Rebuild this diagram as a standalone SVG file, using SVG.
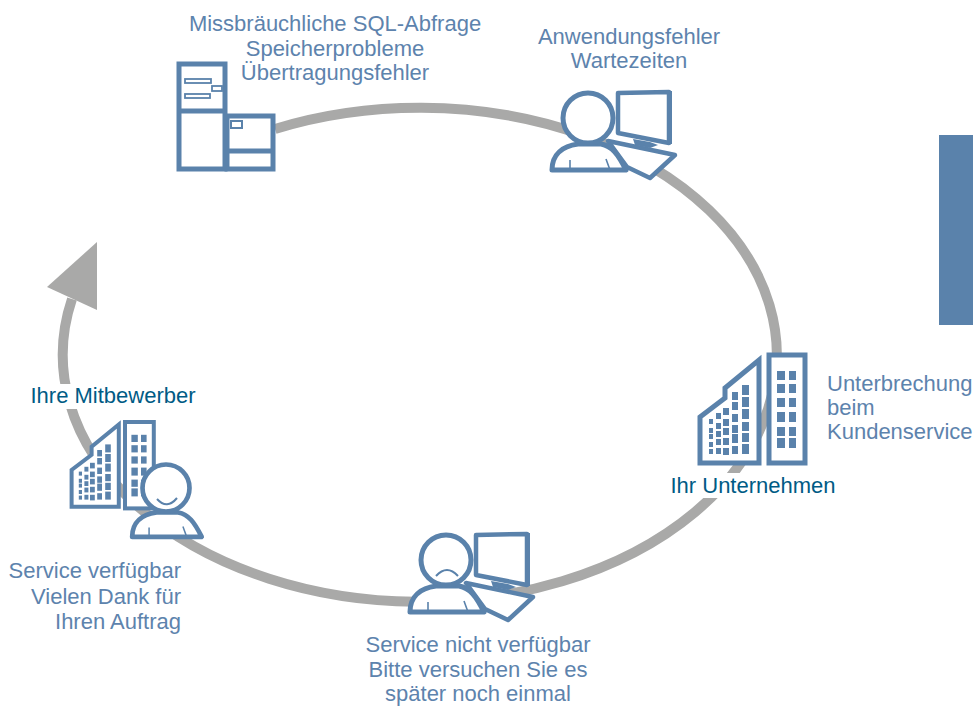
<svg xmlns="http://www.w3.org/2000/svg" width="973" height="706" viewBox="0 0 973 706">
<style>
text{font-family:"Liberation Sans",Arial,sans-serif;font-size:22px;fill:#5d83ad}
.d{fill:#005b85}
.m{text-anchor:middle}
.e{text-anchor:end}
.l{fill:none;stroke:#5a82ab;stroke-width:5}
.w{fill:#fff;stroke:#5a82ab;stroke-width:5;stroke-linejoin:round}
.t{fill:#fff;stroke:#5a82ab;stroke-width:2}
.f{fill:#5a82ab}
</style>
<defs>
<g id="person">
<path class="w" d="M-36 52C-36 36-25 28-10 26L13 26C24 28 30 36 38 52Z"/>
<circle class="w" cx="0" cy="0" r="25"/>
<path d="M-18 42V52M18 41L22 52" fill="none" stroke="#5a82ab" stroke-width="1.6"/>
</g>
<g id="monitor">
<path class="w" d="M20 23L87 37L62 60L39 49Z" style="stroke-width:4.5"/>
<path class="w" d="M30 -25L81 -26L81 25L30 15Z" style="stroke-width:4.5"/>
<path class="f" d="M79 -27H84V26H79Z"/>
<path class="f" d="M45 21L47 27L62 30L70 27L62 24Z"/>
</g>
<g id="tower">
<rect class="w" x="0" y="0" width="36" height="108" style="stroke-linejoin:miter"/>
<g class="f"><rect x="8" y="16" width="8" height="9"/><rect x="20" y="16" width="7" height="9"/><rect x="8" y="29" width="8" height="9"/><rect x="20" y="29" width="7" height="9"/><rect x="8" y="43" width="8" height="9"/><rect x="20" y="43" width="7" height="9"/><rect x="8" y="57" width="8" height="10"/><rect x="20" y="57" width="7" height="10"/><rect x="8" y="72" width="8" height="9"/><rect x="20" y="72" width="7" height="9"/><rect x="8" y="83" width="8" height="10"/><rect x="20" y="83" width="7" height="10"/></g>
</g>
<g id="building">
<path class="w" d="M700 463V417L725 398V388L759 360V463Z" style="stroke-linejoin:miter"/>
<g class="f">
<rect x="709" y="419" width="4" height="5"/><rect x="709" y="428" width="4" height="5"/><rect x="709" y="434" width="4" height="5"/><rect x="709" y="442" width="4" height="5"/><rect x="709" y="449" width="4" height="5"/>
<rect x="716" y="413" width="5" height="6"/><rect x="716" y="423" width="5" height="6"/><rect x="716" y="431" width="5" height="6"/><rect x="716" y="439" width="5" height="6"/><rect x="716" y="448" width="5" height="6"/>
<rect x="723" y="408" width="6" height="7"/><rect x="723" y="419" width="6" height="7"/><rect x="723" y="428" width="6" height="7"/><rect x="723" y="438" width="6" height="7"/><rect x="723" y="448" width="6" height="7"/>
<rect x="732" y="392" width="6" height="8"/><rect x="732" y="402" width="6" height="8"/><rect x="732" y="414" width="6" height="8"/><rect x="732" y="425" width="6" height="8"/><rect x="732" y="434" width="6" height="9"/><rect x="732" y="446" width="6" height="8"/>
<rect x="742" y="385" width="7" height="10"/><rect x="742" y="397" width="7" height="10"/><rect x="742" y="409" width="7" height="10"/><rect x="742" y="422" width="7" height="9"/><rect x="742" y="433" width="7" height="9"/><rect x="742" y="444" width="7" height="10"/>
</g>
</g>
</defs>
<rect x="939" y="135" width="34" height="190" fill="#5a82ab"/>
<g id="connectors">
<path d="M275 129A357 247 0 1 1 72 299" fill="none" stroke="#a9a9a8" stroke-width="10"/>
<polygon points="97,242 47,287 97,310" fill="#a9a9a8"/>
</g>
<g id="server">
<rect class="w" x="179" y="64" width="46" height="105" style="stroke-linejoin:miter"/>
<path class="l" d="M179 111H225"/>
<rect class="w" x="227" y="116" width="46" height="53" style="stroke-linejoin:miter"/>
<path class="l" d="M227 151H273"/>
<rect class="t" x="185" y="79" width="26" height="4" style="stroke-width:1.8"/>
<rect class="t" x="185" y="94" width="25" height="4" style="stroke-width:1.8"/>
<rect class="t" x="212" y="86" width="10" height="5" style="stroke-width:1.8"/>
<rect class="t" x="231" y="121" width="11" height="7"/>
<text class="m" x="335" y="31">Missbräuchliche SQL-Abfrage</text>
<text class="m" x="335" y="56">Speicherprobleme</text>
<text class="m" x="335" y="80">Übertragungsfehler</text>
</g>
<g id="anwendung">
<use href="#monitor" x="588" y="118"/>
<use href="#person" x="588" y="118"/>
<text class="m" x="629" y="44">Anwendungsfehler</text>
<text class="m" x="629" y="68">Wartezeiten</text>
</g>
<g id="unternehmen">
<use href="#building"/>
<use href="#tower" x="769" y="355"/>
<text x="827" y="391">Unterbrechung</text>
<text x="827" y="415">beim</text>
<text x="827" y="439">Kundenservice</text>
<rect x="671" y="473" width="164" height="25" fill="#fff"/>
<text class="d m" x="753" y="493">Ihr Unternehmen</text>
</g>
<g id="service-down">
<use href="#monitor" x="446" y="560"/>
<use href="#person" x="446" y="560"/>
<path d="M436 576Q447 564 458 576" fill="none" stroke="#5a82ab" stroke-width="2"/>
<text class="m" x="478" y="652">Service nicht verfügbar</text>
<text class="m" x="478" y="676.500">Bitte versuchen Sie es</text>
<text class="m" x="478" y="701">später noch einmal</text>
</g>
<g id="mitbewerber">
<g transform="translate(70 422) scale(.8) translate(-698 -357)"><use href="#building"/></g>
<g transform="translate(125 422) scale(.8)"><use href="#tower"/></g>
<g transform="translate(166 488) scale(.94)"><use href="#person"/></g>
<path d="M157 499Q167 510 177 498" fill="none" stroke="#5a82ab" stroke-width="2"/>
<rect x="31" y="384" width="164" height="25" fill="#fff"/>
<text class="d m" x="113" y="403">Ihre Mitbewerber</text>
<text class="e" x="181" y="578">Service verfügbar</text>
<text class="e" x="181" y="604">Vielen Dank für</text>
<text class="e" x="181" y="629">Ihren Auftrag</text>
</g>
</svg>
